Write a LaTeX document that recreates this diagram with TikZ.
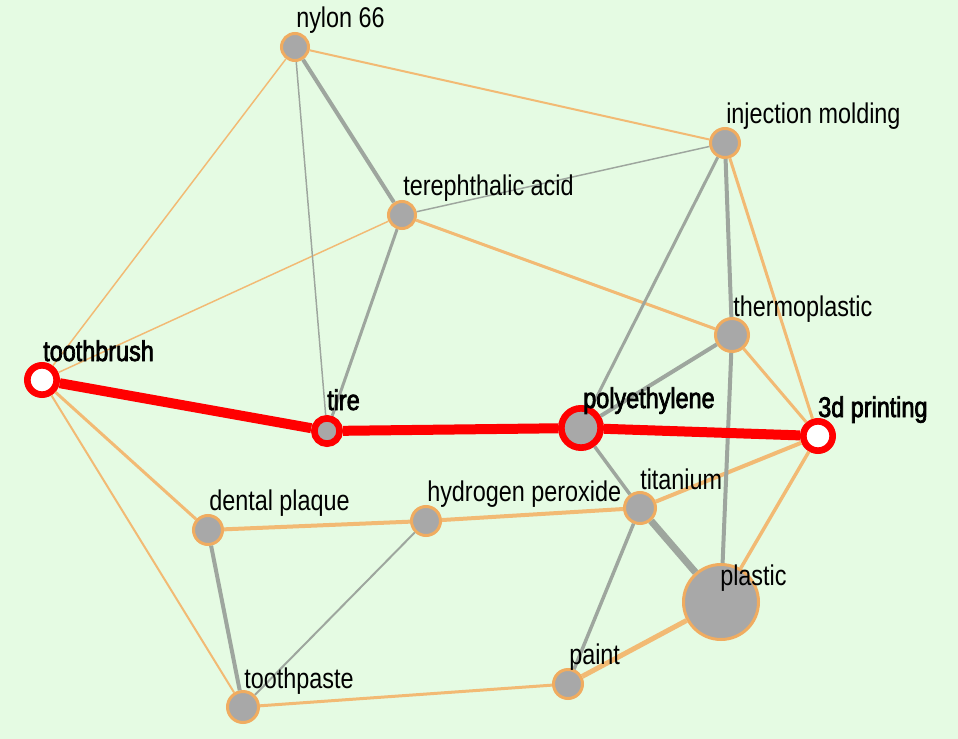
\documentclass[tikz,border=0pt]{standalone}
\usepackage{fontspec}
\setmainfont{Liberation Sans}[FakeStretch=0.82]
\newfontfamily\pathfont{Liberation Sans}[FakeStretch=0.82,FakeBold=2.5]
\usepackage{xcolor}

\definecolor{bggreen}{RGB}{229,251,227}
\definecolor{nodegray}{RGB}{168,168,168}
\definecolor{ringorange}{RGB}{240,172,96}
\definecolor{edgeorange}{RGB}{242,186,116}
\definecolor{edgegray}{RGB}{158,166,158}

\tikzset{
  vtx/.style={circle, fill=nodegray, draw=ringorange, line width=2.25pt, inner sep=0pt},
  hit/.style={circle, fill=nodegray, draw=red, line width=5pt, inner sep=0pt},
  lbl/.style={anchor=base west, inner sep=0pt, font=\fontsize{21.4}{24}\selectfont},
  hitlbl/.style={anchor=base west, inner sep=0pt, font=\fontsize{21.4}{24}\pathfont},
  oe/.style={draw=edgeorange, line width=#1},
  ge/.style={draw=edgegray, line width=#1},
  re/.style={draw=red, line width=7.5pt},
}

\begin{document}
\begin{tikzpicture}[x=0.75pt,y=0.75pt,yscale=-1,xscale=1]
        %background
        \fill[bggreen] (0,0) rectangle (958,739);
        \useasboundingbox (0,0) rectangle (958,739);

        %Vertices
        \node[vtx, minimum size=20.25pt] (ny) at (295,47) {};
        \node[vtx, minimum size=21.75pt] (inj) at (725,143) {};
        \node[vtx, minimum size=20.25pt] (ter) at (402,215) {};
        \node[vtx, minimum size=24.75pt] (thp) at (732,335) {};
        \node[hit, fill=white, minimum size=22pt] (tb) at (42,380) {};
        \node[hit, minimum size=19pt] (tire) at (327,431) {};
        \node[hit, minimum size=29.5pt] (pe) at (581,428) {};
        \node[hit, fill=white, minimum size=22pt] (p3d) at (818,436) {};
        \node[vtx, minimum size=21.75pt] (dp) at (208,530) {};
        \node[vtx, minimum size=21.75pt] (hp) at (426,521) {};
        \node[vtx, minimum size=23.25pt] (ti) at (640,508) {};
        \node[vtx, minimum size=56.25pt] (pl) at (721,602) {};
        \node[vtx, minimum size=21.75pt] (pa) at (568,684) {};
        \node[vtx, minimum size=23.25pt] (tp) at (243,707) {};

        %Edges: orange
        \path[oe=1.1pt] (ny) -- (tb);
        \path[oe=1.5pt] (ny) -- (inj);
        \path[oe=1.1pt] (ter) -- (tb);
        \path[oe=2.25pt] (ter) -- (thp);
        \path[oe=2.25pt] (inj) -- (p3d);
        \path[oe=2.25pt] (thp) -- (p3d);
        \path[oe=2.25pt] (tb) -- (dp);
        \path[oe=1.5pt] (tb) -- (tp);
        \path[oe=3pt] (dp) -- (hp);
        \path[oe=3pt] (hp) -- (ti);
        \path[oe=3pt] (ti) -- (p3d);
        \path[oe=2.6pt] (pl) -- (p3d);
        \path[oe=3.75pt] (pa) -- (pl);
        \path[oe=2.25pt] (tp) -- (pa);
        %Edges: gray
        \path[ge=1.1pt] (ny) -- (tire);
        \path[ge=3pt] (ny) -- (ter);
        \path[ge=1.1pt] (ter) -- (inj);
        \path[ge=2.25pt] (ter) -- (tire);
        \path[ge=2.25pt] (inj) -- (pe);
        \path[ge=3pt] (inj) -- (thp);
        \path[ge=3pt] (thp) -- (pl);
        \path[ge=3pt] (thp) -- (pe);
        \path[ge=2.6pt] (pe) -- (ti);
        \path[ge=5.25pt] (ti) -- (pl);
        \path[ge=2.6pt] (ti) -- (pa);
        \path[ge=3pt] (dp) -- (tp);
        \path[ge=1.5pt] (hp) -- (tp);
        %Edges: red path
        \path[re] (tb) -- (tire);
        \path[re] (tire) -- (pe);
        \path[re] (pe) -- (p3d);

        % Text Node
        \node[lbl] (lny) at (296,27) {nylon 66};
        % Text Node
        \node[lbl] (linj) at (726,123) {injection molding};
        % Text Node
        \node[lbl] (lter) at (403,195) {terephthalic acid};
        % Text Node
        \node[lbl] (lthp) at (733,316) {thermoplastic};
        % Text Node
        \node[hitlbl] (ltb) at (43,361) {toothbrush};
        % Text Node
        \node[hitlbl] (ltire) at (327,410) {tire};
        % Text Node
        \node[hitlbl] (lpe) at (583,408) {polyethylene};
        % Text Node
        \node[hitlbl] (lp3d) at (818,417) {3d printing};
        % Text Node
        \node[lbl] (ldp) at (209,510) {dental plaque};
        % Text Node
        \node[lbl] (lhp) at (427,501) {hydrogen peroxide};
        % Text Node
        \node[lbl] (lti) at (640,489) {titanium};
        % Text Node
        \node[lbl] (lpl) at (720,585) {plastic};
        % Text Node
        \node[lbl] (lpa) at (569,664) {paint};
        % Text Node
        \node[lbl] (ltp) at (244,688) {toothpaste};

\end{tikzpicture}
\end{document}
